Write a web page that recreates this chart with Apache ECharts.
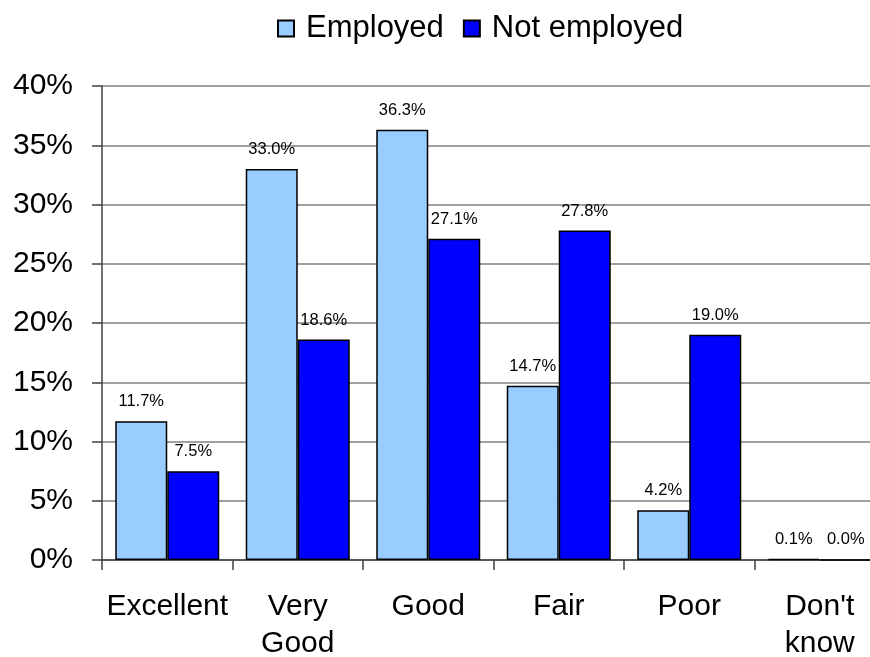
<!DOCTYPE html>
<html>
<head>
<meta charset="utf-8">
<script src="https://cdn.jsdelivr.net/npm/echarts@6/dist/echarts.min.js"></script>
<style>
  html, body { margin: 0; padding: 0; background: #fff; }
  #chart { width: 870px; height: 657px; }
</style>
</head>
<body>
<div id="chart"></div>
<script>
// Self-rated health by employment status (percent of respondents)
const categories = ['Excellent', 'Very\nGood', 'Good', 'Fair', 'Poor', "Don't\nknow"];
const employed = [11.7, 33.0, 36.3, 14.7, 4.2, 0.1];
const notEmployed = [7.5, 18.6, 27.1, 27.8, 19.0, 0.0];
const yTicks = [0, 5, 10, 15, 20, 25, 30, 35, 40];

const FONT = '"Liberation Sans", Arial, sans-serif';

const chart = echarts.init(document.getElementById('chart'), null, { renderer: 'canvas' });

const barLabel = {
  show: true,
  position: 'top',
  distance: 11,
  fontFamily: FONT,
  fontSize: 16.5,
  color: '#000',
  formatter: p => p.value.toFixed(1) + '%'
};

chart.setOption({
  animation: false,
  backgroundColor: '#fff',
  textStyle: { fontFamily: FONT },
  legend: {
    top: 13,
    left: 277,
    padding: 0,
    itemWidth: 16,
    itemHeight: 16,
    itemGap: 19,
    icon: 'rect',
    textStyle: { fontFamily: FONT, fontSize: 31, color: '#000', padding: [0, 0, 0, 7] },
    data: ['Employed', 'Not employed']
  },
  // the last category runs past the right edge of the canvas
  grid: {
    left: 102, width: 783, top: 86, bottom: 97,
    containLabel: false,
    outerBoundsMode: 'none'
  },
  xAxis: {
    type: 'category',
    data: categories,
    axisLine: { lineStyle: { color: '#404040', width: 1.5 } },
    axisTick: { show: true, length: 10, lineStyle: { color: '#404040', width: 1.5 } },
    axisLabel: {
      fontFamily: FONT,
      fontSize: 30,
      color: '#000',
      margin: 28,
      lineHeight: 37,
      interval: 0
    }
  },
  yAxis: {
    type: 'value',
    min: yTicks[0],
    max: yTicks[yTicks.length - 1],
    interval: 5,
    axisLine: { show: true, lineStyle: { color: '#404040', width: 1.5 } },
    axisTick: { show: true, length: 10, lineStyle: { color: '#404040', width: 1.5 } },
    splitLine: { show: true, lineStyle: { color: '#808080', width: 1.5 } },
    axisLabel: {
      fontFamily: FONT,
      fontSize: 30,
      color: '#000',
      margin: 29,
      formatter: v => v + '%'
    }
  },
  series: [
    {
      name: 'Employed',
      type: 'bar',
      data: employed,
      barWidth: 52,
      barGap: '0%',
      itemStyle: { color: '#99CCFF', borderColor: '#000', borderWidth: 1.5 },
      label: barLabel
    },
    {
      name: 'Not employed',
      type: 'bar',
      data: notEmployed,
      barWidth: 52,
      barGap: '0%',
      itemStyle: { color: '#0000FF', borderColor: '#000', borderWidth: 1.5 },
      label: barLabel
    }
  ]
});
</script>
</body>
</html>
